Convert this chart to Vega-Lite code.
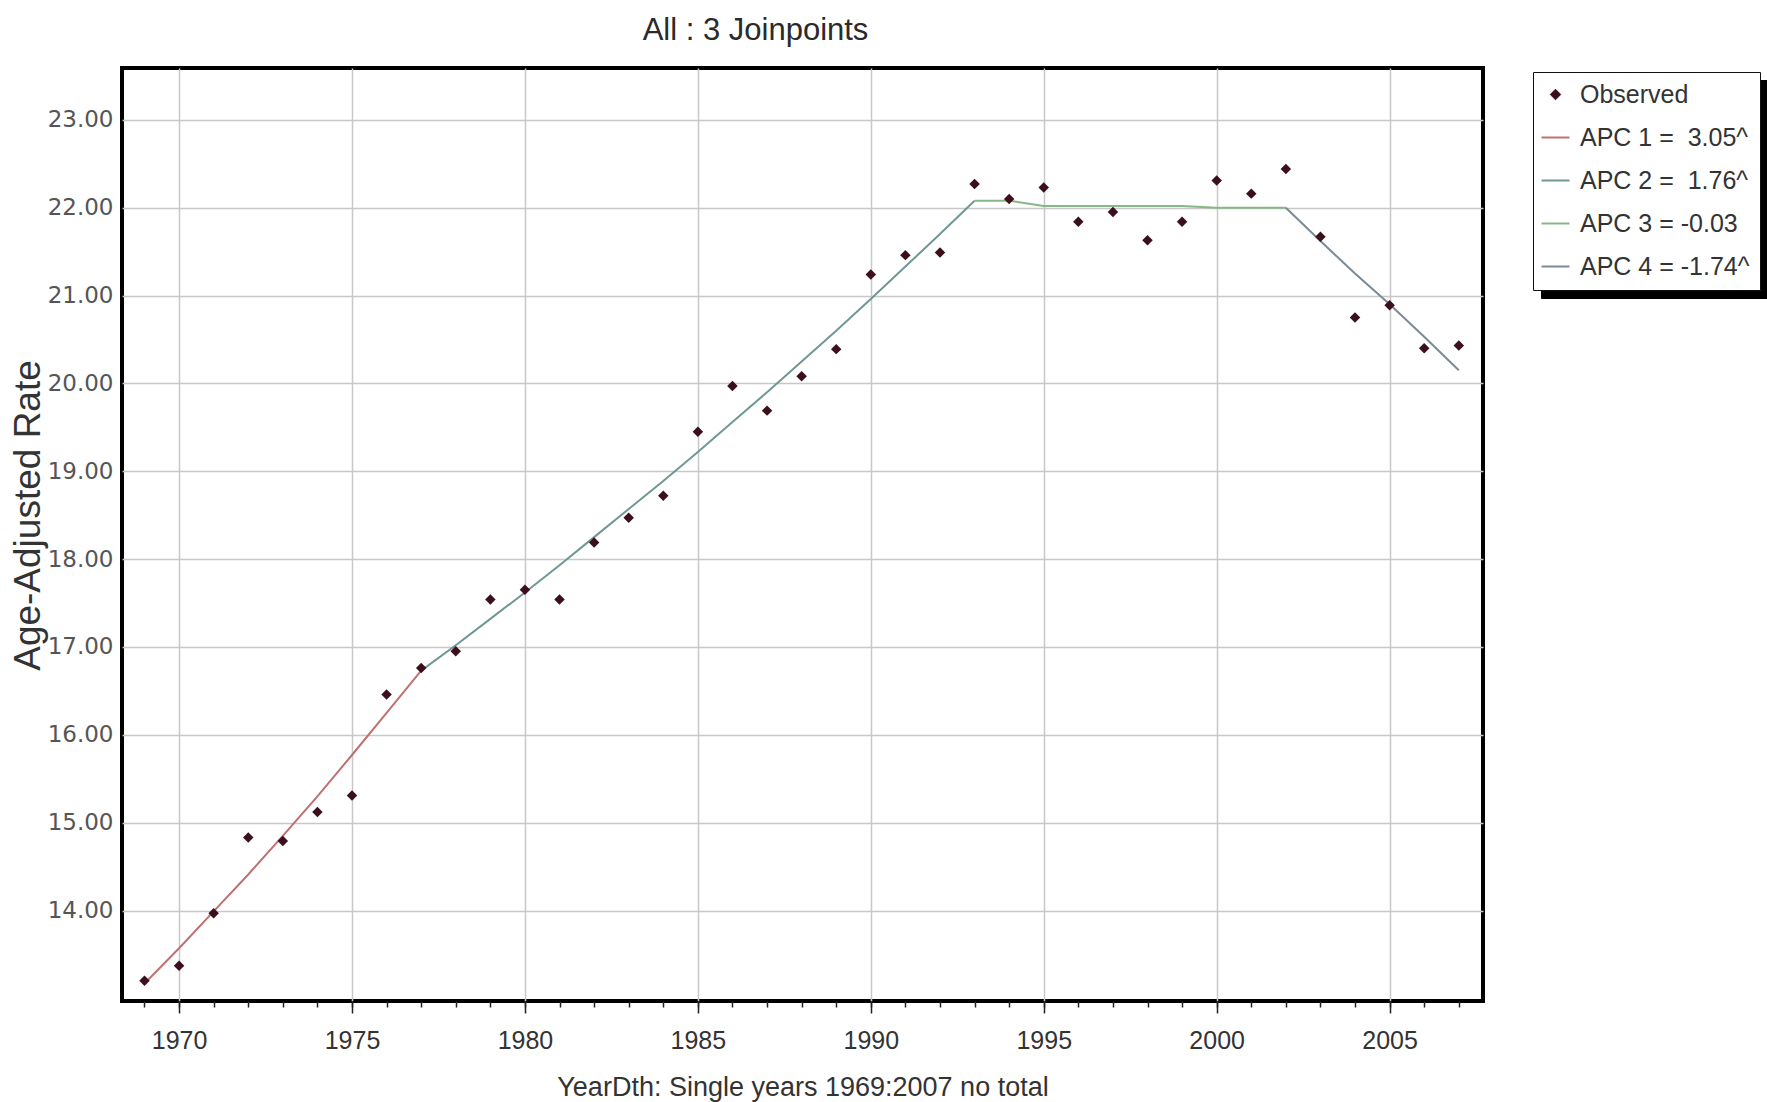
{
  "$schema": "https://vega.github.io/schema/vega-lite/v6.json",
  "width": 1361,
  "height": 933,
  "autosize": {"type": "none"},
  "padding": {"left": 122, "top": 68, "right": 284, "bottom": 101},
  "background": "white",
  "title": {"text": "All : 3 Joinpoints", "font": "Liberation Sans", "fontSize": 31, "fontWeight": "normal", "color": "#2a2a2a", "anchor": "middle", "frame": "group", "dx": -47, "dy": 31, "offset": 28, "baseline": "alphabetic"},
  "datasets": {
    "observed": [
      {"year": 1969, "rate": 13.20, "series": "Observed"},
      {"year": 1970, "rate": 13.37, "series": "Observed"},
      {"year": 1971, "rate": 13.97, "series": "Observed"},
      {"year": 1972, "rate": 14.83, "series": "Observed"},
      {"year": 1973, "rate": 14.79, "series": "Observed"},
      {"year": 1974, "rate": 15.12, "series": "Observed"},
      {"year": 1975, "rate": 15.31, "series": "Observed"},
      {"year": 1976, "rate": 16.46, "series": "Observed"},
      {"year": 1977, "rate": 16.76, "series": "Observed"},
      {"year": 1978, "rate": 16.95, "series": "Observed"},
      {"year": 1979, "rate": 17.54, "series": "Observed"},
      {"year": 1980, "rate": 17.65, "series": "Observed"},
      {"year": 1981, "rate": 17.54, "series": "Observed"},
      {"year": 1982, "rate": 18.19, "series": "Observed"},
      {"year": 1983, "rate": 18.47, "series": "Observed"},
      {"year": 1984, "rate": 18.72, "series": "Observed"},
      {"year": 1985, "rate": 19.45, "series": "Observed"},
      {"year": 1986, "rate": 19.97, "series": "Observed"},
      {"year": 1987, "rate": 19.69, "series": "Observed"},
      {"year": 1988, "rate": 20.08, "series": "Observed"},
      {"year": 1989, "rate": 20.39, "series": "Observed"},
      {"year": 1990, "rate": 21.24, "series": "Observed"},
      {"year": 1991, "rate": 21.46, "series": "Observed"},
      {"year": 1992, "rate": 21.49, "series": "Observed"},
      {"year": 1993, "rate": 22.27, "series": "Observed"},
      {"year": 1994, "rate": 22.10, "series": "Observed"},
      {"year": 1995, "rate": 22.23, "series": "Observed"},
      {"year": 1996, "rate": 21.84, "series": "Observed"},
      {"year": 1997, "rate": 21.95, "series": "Observed"},
      {"year": 1998, "rate": 21.63, "series": "Observed"},
      {"year": 1999, "rate": 21.84, "series": "Observed"},
      {"year": 2000, "rate": 22.31, "series": "Observed"},
      {"year": 2001, "rate": 22.16, "series": "Observed"},
      {"year": 2002, "rate": 22.44, "series": "Observed"},
      {"year": 2003, "rate": 21.67, "series": "Observed"},
      {"year": 2004, "rate": 20.75, "series": "Observed"},
      {"year": 2005, "rate": 20.89, "series": "Observed"},
      {"year": 2006, "rate": 20.40, "series": "Observed"},
      {"year": 2007, "rate": 20.43, "series": "Observed"}
    ],
    "fit": [
      {"year": 1969, "rate": 13.17, "series": "APC 1 = \u00a03.05^", "sd": "s"},
      {"year": 1970, "rate": 13.57, "series": "APC 1 = \u00a03.05^", "sd": "s"},
      {"year": 1971, "rate": 13.99, "series": "APC 1 = \u00a03.05^", "sd": "s"},
      {"year": 1972, "rate": 14.41, "series": "APC 1 = \u00a03.05^", "sd": "s"},
      {"year": 1973, "rate": 14.85, "series": "APC 1 = \u00a03.05^", "sd": "s"},
      {"year": 1974, "rate": 15.30, "series": "APC 1 = \u00a03.05^", "sd": "s"},
      {"year": 1975, "rate": 15.77, "series": "APC 1 = \u00a03.05^", "sd": "s"},
      {"year": 1976, "rate": 16.25, "series": "APC 1 = \u00a03.05^", "sd": "s"},
      {"year": 1977, "rate": 16.73, "series": "APC 1 = \u00a03.05^", "sd": "s"},
      {"year": 1977, "rate": 16.73, "series": "APC 2 = \u00a01.76^", "sd": "s"},
      {"year": 1978, "rate": 17.02, "series": "APC 2 = \u00a01.76^", "sd": "s"},
      {"year": 1979, "rate": 17.32, "series": "APC 2 = \u00a01.76^", "sd": "s"},
      {"year": 1980, "rate": 17.62, "series": "APC 2 = \u00a01.76^", "sd": "s"},
      {"year": 1981, "rate": 17.93, "series": "APC 2 = \u00a01.76^", "sd": "s"},
      {"year": 1982, "rate": 18.25, "series": "APC 2 = \u00a01.76^", "sd": "s"},
      {"year": 1983, "rate": 18.57, "series": "APC 2 = \u00a01.76^", "sd": "s"},
      {"year": 1984, "rate": 18.89, "series": "APC 2 = \u00a01.76^", "sd": "s"},
      {"year": 1985, "rate": 19.22, "series": "APC 2 = \u00a01.76^", "sd": "s"},
      {"year": 1986, "rate": 19.56, "series": "APC 2 = \u00a01.76^", "sd": "s"},
      {"year": 1987, "rate": 19.90, "series": "APC 2 = \u00a01.76^", "sd": "s"},
      {"year": 1988, "rate": 20.25, "series": "APC 2 = \u00a01.76^", "sd": "s"},
      {"year": 1989, "rate": 20.60, "series": "APC 2 = \u00a01.76^", "sd": "s"},
      {"year": 1990, "rate": 20.96, "series": "APC 2 = \u00a01.76^", "sd": "s"},
      {"year": 1991, "rate": 21.33, "series": "APC 2 = \u00a01.76^", "sd": "s"},
      {"year": 1992, "rate": 21.70, "series": "APC 2 = \u00a01.76^", "sd": "s"},
      {"year": 1993, "rate": 22.08, "series": "APC 2 = \u00a01.76^", "sd": "s"},
      {"year": 1993, "rate": 22.08, "series": "APC 3 = -0.03", "sd": "s"},
      {"year": 1994, "rate": 22.08, "series": "APC 3 = -0.03", "sd": "s"},
      {"year": 1995, "rate": 22.02, "series": "APC 3 = -0.03", "sd": "s"},
      {"year": 1996, "rate": 22.02, "series": "APC 3 = -0.03", "sd": "s"},
      {"year": 1997, "rate": 22.02, "series": "APC 3 = -0.03", "sd": "s"},
      {"year": 1998, "rate": 22.02, "series": "APC 3 = -0.03", "sd": "s"},
      {"year": 1999, "rate": 22.02, "series": "APC 3 = -0.03", "sd": "s"},
      {"year": 2000, "rate": 22.00, "series": "APC 3 = -0.03", "sd": "s"},
      {"year": 2001, "rate": 22.00, "series": "APC 3 = -0.03", "sd": "s"},
      {"year": 2002, "rate": 22.00, "series": "APC 3 = -0.03", "sd": "s"},
      {"year": 2002, "rate": 22.00, "series": "APC 4 = -1.74^", "sd": "s"},
      {"year": 2003, "rate": 21.62, "series": "APC 4 = -1.74^", "sd": "s"},
      {"year": 2004, "rate": 21.25, "series": "APC 4 = -1.74^", "sd": "s"},
      {"year": 2005, "rate": 20.90, "series": "APC 4 = -1.74^", "sd": "s"},
      {"year": 2006, "rate": 20.53, "series": "APC 4 = -1.74^", "sd": "s"},
      {"year": 2007, "rate": 20.15, "series": "APC 4 = -1.74^", "sd": "s"}
    ]
  },
  "resolve": {"axis": {"x": "independent"}},
  "layer": [
    {
      "data": {"name": "fit"},
      "mark": {"type": "line", "strokeWidth": 2},
      "encoding": {
        "x": {"field": "year", "type": "quantitative", "scale": {"domain": [1968.35, 2007.7], "nice": false, "zero": false},
          "axis": {"orient": "bottom", "values": [1969,1970,1971,1972,1973,1974,1975,1976,1977,1978,1979,1980,1981,1982,1983,1984,1985,1986,1987,1988,1989,1990,1991,1992,1993,1994,1995,1996,1997,1998,1999,2000,2001,2002,2003,2004,2005,2006,2007], "labels": false, "grid": false, "domain": false, "tickSize": 6, "tickColor": "#222", "tickWidth": 1.5, "title": null}},
        "y": {"field": "rate", "type": "quantitative", "scale": {"domain": [12.97, 23.59], "nice": false, "zero": false},
          "axis": {"orient": "left", "values": [14,15,16,17,18,19,20,21,22,23], "format": ".2f", "grid": true, "gridColor": "#c8c8c8", "gridWidth": 1.5, "domain": false, "ticks": false, "labelFont": "DejaVu Sans", "labelFontSize": 23, "labelColor": "#555", "labelPadding": 9, "title": "Age-Adjusted Rate", "titleFont": "Liberation Sans", "titleFontSize": 37, "titleFontWeight": "normal", "titleColor": "#333", "titleX": -94, "titleY": 447, "titleAngle": -90, "titleBaseline": "middle", "titleAlign": "center"}},
        "color": {"field": "series", "type": "nominal",
          "scale": {"domain": ["Observed", "APC 1 = \u00a03.05^", "APC 2 = \u00a01.76^", "APC 3 = -0.03", "APC 4 = -1.74^"], "range": ["#3b0f1c", "#c0706e", "#6f9795", "#86b886", "#7a8a96"]},
          "legend": {"title": null, "orient": "none", "legendX": 1411, "legendY": 4, "fillColor": "white", "strokeColor": "#111", "padding": 10, "rowPadding": 17, "labelFont": "Liberation Sans", "labelFontSize": 25, "labelColor": "#333", "labelOffset": 12, "labelLimit": 400, "symbolSize": 784, "symbolType": "stroke", "symbolStrokeWidth": 2, "zindex": 2,
            "encode": {"symbols": {"update": {
              "shape": {"signal": "datum.value === 'Observed' ? 'diamond' : 'stroke'"},
              "size": {"signal": "datum.value === 'Observed' ? 110 : 784"},
              "fill": {"signal": "datum.value === 'Observed' ? '#3b0f1c' : 'transparent'"},
              "stroke": {"scale": "color", "field": "value"},
              "strokeWidth": {"signal": "datum.value === 'Observed' ? 1 : 2"}}}}}},
        "opacity": {"field": "sd", "type": "nominal",
          "scale": {"domain": ["s"], "range": [1]},
          "legend": {"title": null, "orient": "none", "legendX": 1419, "legendY": 12, "fillColor": "#000", "strokeColor": "#000", "padding": 10, "labelOffset": 9, "labelExpr": "''", "labelFontSize": 1, "symbolSize": 39204, "symbolType": "square", "symbolOpacity": 0, "symbolStrokeWidth": 0, "zindex": 1}}
      }
    },
    {
      "data": {"name": "observed"},
      "mark": {"type": "point", "filled": true, "opacity": 1, "size": 110, "shape": "diamond"},
      "encoding": {
        "x": {"field": "year", "type": "quantitative", "scale": {"domain": [1968.35, 2007.7], "nice": false, "zero": false},
          "axis": {"orient": "bottom", "values": [1970,1975,1980,1985,1990,1995,2000,2005], "format": "d", "grid": true, "gridColor": "#c8c8c8", "gridWidth": 1.5, "domain": false, "tickSize": 12, "tickColor": "#222", "tickWidth": 1.5, "labelFont": "Liberation Sans", "labelFontSize": 25, "labelColor": "#333", "labelPadding": 15, "title": "YearDth: Single years 1969:2007 no total", "titleFont": "Liberation Sans", "titleFontSize": 27, "titleFontWeight": "normal", "titleColor": "#333", "titlePadding": 21}},
        "y": {"field": "rate", "type": "quantitative", "scale": {"domain": [12.97, 23.59], "nice": false, "zero": false}},
        "color": {"field": "series", "type": "nominal",
          "scale": {"domain": ["Observed", "APC 1 = \u00a03.05^", "APC 2 = \u00a01.76^", "APC 3 = -0.03", "APC 4 = -1.74^"], "range": ["#3b0f1c", "#c0706e", "#6f9795", "#86b886", "#7a8a96"]},
          "legend": {"title": null, "orient": "none", "legendX": 1411, "legendY": 4, "fillColor": "white", "strokeColor": "#111", "padding": 10, "rowPadding": 17, "labelFont": "Liberation Sans", "labelFontSize": 25, "labelColor": "#333", "labelOffset": 12, "labelLimit": 400, "symbolSize": 784, "symbolType": "stroke", "symbolStrokeWidth": 2, "zindex": 2,
            "encode": {"symbols": {"update": {
              "shape": {"signal": "datum.value === 'Observed' ? 'diamond' : 'stroke'"},
              "size": {"signal": "datum.value === 'Observed' ? 110 : 784"},
              "fill": {"signal": "datum.value === 'Observed' ? '#3b0f1c' : 'transparent'"},
              "stroke": {"scale": "color", "field": "value"},
              "strokeWidth": {"signal": "datum.value === 'Observed' ? 1 : 2"}}}}}}
      }
    }
  ],
  "config": {
    "view": {"stroke": "#000", "strokeWidth": 4},
    "axis": {"gridDash": []}
  }
}
